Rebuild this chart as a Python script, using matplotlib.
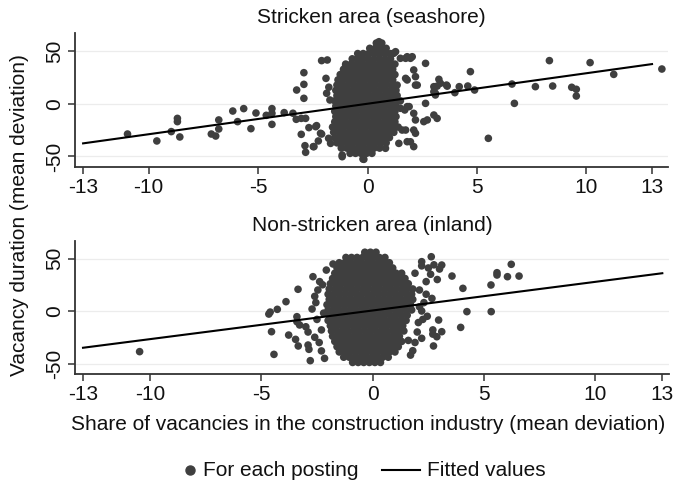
import numpy as np
import matplotlib
matplotlib.use("Agg")
import matplotlib.pyplot as plt
from matplotlib.lines import Line2D

plt.rcParams['font.family'] = ['Liberation Sans', 'DejaVu Sans']

# ---------------- data ----------------
panel_titles = ["Stricken area (seashore)", "Non-stricken area (inland)"]
x_ticks = [-13, -10, -5, 0, 5, 10, 13]
y_ticks = [-50, 0, 50]

# Top panel (seashore): dense core, rows of points (y value, list of x values)
top_core_y = [58, 53, 48, 43, 38, 33, 28, 23, 18, 13, 8, 3, -2, -7, -12, -17,
              -22, -27, -32, -37, -42, -47]
top_core_x = [
    [0.4, 0.65],
    [0.1, 0.35, 0.6, 0.85],
    [-0.45, -0.2, 0.05, 0.3, 0.55, 0.8, 1.05],
    [-0.7, -0.45, -0.2, 0.05, 0.3, 0.55, 0.8, 1.05],
    [-1.0, -0.75, -0.5, -0.25, 0.0, 0.25, 0.5, 0.75, 1.0, 1.25],
    [-1.1, -0.85, -0.6, -0.35, -0.1, 0.15, 0.4, 0.65, 0.9, 1.15],
    [-1.25, -1.0, -0.75, -0.5, -0.25, 0.0, 0.25, 0.5, 0.75, 1.0, 1.25],
    [-1.35, -1.1, -0.85, -0.6, -0.35, -0.1, 0.15, 0.4, 0.65, 0.9, 1.15],
    [-1.4, -1.15, -0.9, -0.65, -0.4, -0.15, 0.1, 0.35, 0.6, 0.85, 1.1, 1.35],
    [-1.45, -1.2, -0.95, -0.7, -0.45, -0.2, 0.05, 0.3, 0.55, 0.8, 1.05, 1.3],
    [-1.4, -1.15, -0.9, -0.65, -0.4, -0.15, 0.1, 0.35, 0.6, 0.85, 1.1, 1.35],
    [-1.5, -1.25, -1.0, -0.75, -0.5, -0.25, 0.0, 0.25, 0.5, 0.75, 1.0, 1.25, 1.5],
    [-1.45, -1.2, -0.95, -0.7, -0.45, -0.2, 0.05, 0.3, 0.55, 0.8, 1.05, 1.3],
    [-1.5, -1.25, -1.0, -0.75, -0.5, -0.25, 0.0, 0.25, 0.5, 0.75, 1.0, 1.25],
    [-1.45, -1.2, -0.95, -0.7, -0.45, -0.2, 0.05, 0.3, 0.55, 0.8, 1.05, 1.3],
    [-1.5, -1.25, -1.0, -0.75, -0.5, -0.25, 0.0, 0.25, 0.5, 0.75, 1.0, 1.25],
    [-1.6, -1.35, -1.1, -0.85, -0.6, -0.35, -0.1, 0.15, 0.4, 0.65, 0.9, 1.15, 1.4],
    [-1.55, -1.3, -1.05, -0.8, -0.55, -0.3, -0.05, 0.2, 0.45, 0.7, 0.95, 1.2],
    [-1.5, -1.25, -1.0, -0.75, -0.5, -0.25, 0.0, 0.25, 0.5, 0.75, 1.0],
    [-1.4, -1.15, -0.9, -0.65, -0.4, -0.15, 0.1, 0.35, 0.6, 0.85],
    [-1.2, -0.95, -0.7, -0.45, -0.2, 0.05, 0.3, 0.55],
    [-0.8, -0.55, -0.3, -0.05, 0.2],
]
# Top panel: scattered postings
top_out_x = [-10.97, -9.63, -8.97, -8.69, -8.69, -8.58, -7.14, -6.94, -6.80, -6.80,
             -6.16, -5.94, -5.66, -5.33, -5.10, -4.63, -4.37, -4.37, -4.37, -3.81,
             -3.41, -3.26, -3.03, -3.24, -2.91, -2.91, -2.91, -3.03, -2.86, -2.83,
             -2.68, -2.48, -2.33, -2.25, -2.10, -1.84, -1.90, -1.87, -1.72, -2.10,
             -1.78, -1.69, -1.38, -1.16, -0.21, -0.41, -1.00, -0.93, -2.83, -2.37,
             -2.15, -2.45, -1.77,
             0.52, 0.67, 1.20, 1.50, 2.04, 1.81, 1.28, 2.65, 2.11, 2.19,
             2.27, 1.81, 3.18, 3.33, 3.64, 3.03, 3.10, 3.26, 3.61, 3.03,
             3.10, 2.65, 1.50, 1.81, 2.11, 2.19, 2.57, 2.73, 3.03, 3.18,
             2.11, 2.19, 1.58, 1.81, 2.11, 1.43, 0.82, -0.17, -1.16, 1.74,
             1.96, 1.74, 2.19, 1.70, 1.90, 1.74, 1.96, 3.99, 4.19, 4.58,
             4.89, 4.70, 5.52, 6.60, 6.71, 7.67, 8.46, 8.31, 9.33, 9.54,
             9.54, 10.17, 11.25, 13.45]
top_out_y = [-28.6, -35.2, -26.3, -13.7, -16.8, -31.4, -28.6, -30.5, -15.2, -23.8,
             -6.7, -16.8, -4.4, -23.5, -8.6, -10.8, -4.4, -8.9, -19.4, -8.2,
             -8.8, -14.6, -13.7, 13.3, 29.8, 18.7, 5.4, -28.9, -39.7, -46.0,
             -22.5, -40.6, -20.6, -35.2, 41.3, 41.9, 24.4, 10.2, 3.8, -28.6,
             -32.7, -37.5, -23.2, -48.6, -52.4, 45.0, 37.0, 36.0, -13.7, -21.6,
             -27.9, -40.6, 16.0,
             59.3, 53.0, 48.3, 43.5, 45.0, 45.0, 49.8, 38.7, 32.4, 26.0,
             18.0, 22.9, 17.0, 19.7, 17.0, 11.7, 10.2, 23.5, 18.0, 16.5,
             8.6, 0.6, -4.1, -2.5, -8.9, -15.2, -16.8, -15.2, -10.5, -13.7,
             -24.8, -27.9, -24.8, -35.9, -40.6, -37.5, -42.2, -52.7, -50.2, 43.5,
             43.5, 24.4, 18.0, -5.7, -2.5, -24.8, -36.0, 10.8, 16.5, 17.1,
             13.3, 30.8, -32.7, 19.0, 0.6, 16.5, 17.1, 41.3, 15.9, 14.0,
             7.6, 39.4, 28.2, 33.3]
# Top panel fitted values at the axis ends
top_fit_x = [-13, 13]
top_fit_y = [-37.5, 38.0]

# Bottom panel (inland): dense core rows
bot_core_y = [56, 51, 46, 41, 36, 31, 26, 21, 16, 11, 6, 1, -4, -9, -14, -19,
              -24, -29, -34, -39, -44, -49]
bot_core_x = [
    [-0.35, -0.1, 0.15],
    [-1.2, -0.95, -0.7, -0.45, -0.2, 0.05, 0.3, 0.55],
    [-1.5, -1.25, -1.0, -0.75, -0.5, -0.25, 0.0, 0.25, 0.5, 0.75],
    [-1.6, -1.35, -1.1, -0.85, -0.6, -0.35, -0.1, 0.15, 0.4, 0.65, 0.9],
    [-1.7, -1.45, -1.2, -0.95, -0.7, -0.45, -0.2, 0.05, 0.3, 0.55, 0.8, 1.05, 1.3],
    [-1.8, -1.55, -1.3, -1.05, -0.8, -0.55, -0.3, -0.05, 0.2, 0.45, 0.7, 0.95, 1.2, 1.45],
    [-1.9, -1.65, -1.4, -1.15, -0.9, -0.65, -0.4, -0.15, 0.1, 0.35, 0.6, 0.85, 1.1, 1.35, 1.6],
    [-1.95, -1.7, -1.45, -1.2, -0.95, -0.7, -0.45, -0.2, 0.05, 0.3, 0.55, 0.8, 1.05, 1.3, 1.55, 1.8],
    [-2.0, -1.75, -1.5, -1.25, -1.0, -0.75, -0.5, -0.25, 0.0, 0.25, 0.5, 0.75, 1.0, 1.25, 1.5, 1.75],
    [-1.95, -1.7, -1.45, -1.2, -0.95, -0.7, -0.45, -0.2, 0.05, 0.3, 0.55, 0.8, 1.05, 1.3, 1.55, 1.8],
    [-2.05, -1.8, -1.55, -1.3, -1.05, -0.8, -0.55, -0.3, -0.05, 0.2, 0.45, 0.7, 0.95, 1.2, 1.45, 1.7],
    [-2.0, -1.75, -1.5, -1.25, -1.0, -0.75, -0.5, -0.25, 0.0, 0.25, 0.5, 0.75, 1.0, 1.25, 1.5, 1.75],
    [-1.95, -1.7, -1.45, -1.2, -0.95, -0.7, -0.45, -0.2, 0.05, 0.3, 0.55, 0.8, 1.05, 1.3, 1.55],
    [-2.0, -1.75, -1.5, -1.25, -1.0, -0.75, -0.5, -0.25, 0.0, 0.25, 0.5, 0.75, 1.0, 1.25, 1.5],
    [-1.9, -1.65, -1.4, -1.15, -0.9, -0.65, -0.4, -0.15, 0.1, 0.35, 0.6, 0.85, 1.1, 1.35],
    [-1.85, -1.6, -1.35, -1.1, -0.85, -0.6, -0.35, -0.1, 0.15, 0.4, 0.65, 0.9, 1.15, 1.4],
    [-1.8, -1.55, -1.3, -1.05, -0.8, -0.55, -0.3, -0.05, 0.2, 0.45, 0.7, 0.95, 1.2],
    [-1.7, -1.45, -1.2, -0.95, -0.7, -0.45, -0.2, 0.05, 0.3, 0.55, 0.8, 1.05, 1.3],
    [-1.6, -1.35, -1.1, -0.85, -0.6, -0.35, -0.1, 0.15, 0.4, 0.65, 0.9, 1.15],
    [-1.5, -1.25, -1.0, -0.75, -0.5, -0.25, 0.0, 0.25, 0.5, 0.75, 1.0],
    [-1.3, -1.05, -0.8, -0.55, -0.3, -0.05, 0.2, 0.45, 0.7],
    [-0.9, -0.65, -0.4, -0.15, 0.1, 0.35],
]
bot_out_x = [-10.46, -4.66, -4.60, -4.28, -3.89, -3.35, -4.54, -4.43, -3.77, -3.46,
             -3.34, -3.40, -3.40, -3.28, -2.90, -2.86, -2.80, -2.72, -2.68, -2.08,
             -1.78, -2.46, -2.38, -2.16, -0.34, -3.00, -2.90, -2.60, -2.50, -2.55,
             -2.40, -2.30, -2.60, -2.30, -2.25, -2.20,
             2.63, 2.20, 3.10, 3.56, 4.05, 5.31, 5.58, 5.58, 6.05, 6.22,
             6.57, 4.23, 5.32, 3.95, 2.96, 3.10, 2.88, 2.73, 2.70, 2.70,
             1.80, 0.34, -0.41, 2.05, 2.25, 2.45, 2.66, 2.40, 2.60, 2.90,
             3.00, 2.75, 2.50, 1.90, 2.20, 2.10, 2.30, 2.20, 2.00, 2.20,
             1.90, 1.70, 2.40, 1.60, 2.10]
bot_out_y = [-38.7, -2.9, -1.0, 1.6, 8.9, 20.7, -19.7, -41.3, -22.9, -27.0,
             -33.3, -5.4, -10.2, -13.3, -32.4, -36.5, -47.3, 1.9, 32.7, 39.0,
             44.8, 20.0, 28.0, -45.1, 55.5, -15.0, -20.0, -25.0, -8.0, 8.0,
             -30.0, -38.0, 14.0, -18.0, 25.0, -2.0,
             51.7, 47.0, 43.8, 33.3, 21.6, 24.8, 36.5, 34.3, 32.7, 44.5,
             33.3, -0.6, -0.6, -15.6, -8.6, -19.7, -24.5, -33.3, -18.0, -22.0,
             -37.8, -46.7, -45.0, -11.0, -8.0, -5.0, 12.0, 28.0, 35.0, 30.0,
             40.0, 44.0, 41.0, 36.0, 43.0, 20.0, 8.0, 0.0, -20.0, -26.0,
             -30.0, -42.0, 16.0, -28.0, 4.0]
bot_fit_x = [-13, 13]
bot_fit_y = [-35.0, 36.0]

legend_labels = ["For each posting", "Fitted values"]
x_label = "Share of vacancies in the construction industry (mean deviation)"
y_label = "Vacancy duration (mean deviation)"

# ---------------- build point arrays ----------------
def assemble(core_y, core_x, out_x, out_y):
    xs, ys = [], []
    for yv, row in zip(core_y, core_x):
        xs.extend(row)
        ys.extend([yv] * len(row))
    xs.extend(out_x)
    ys.extend(out_y)
    return np.array(xs), np.array(ys)

top_x, top_y = assemble(top_core_y, top_core_x, top_out_x, top_out_y)
bot_x, bot_y = assemble(bot_core_y, bot_core_x, bot_out_x, bot_out_y)

# ---------------- figure ----------------
W, H = 678, 490
fig = plt.figure(figsize=(W / 100, H / 100), dpi=100)
fig.patch.set_facecolor("white")

def px_axes(l, t, r, b):
    return fig.add_axes([l / W, 1 - b / H, (r - l) / W, (b - t) / H])

ax_top = px_axes(75, 33, 668, 167)
ax_bot = px_axes(75, 241, 669, 374)

dot_color = "#3f3f3f"
spine_color = "#333333"
text_color = "#111111"
fs = 15

panels = [
    (ax_top, top_x, top_y, top_fit_x, top_fit_y, (-13.37, 13.73), (-60, 67.6)),
    (ax_bot, bot_x, bot_y, bot_fit_x, bot_fit_y, (-13.36, 13.3), (-60, 66.7)),
]
for (ax, xs, ys, fx, fy, xl, yl), title in zip(panels, panel_titles):
    for yt in y_ticks:
        ax.axhline(yt, color="#ececec", lw=0.9, zorder=0)
    ax.scatter(xs, ys, s=30, color=dot_color, edgecolors="none", zorder=2)
    ax.plot(fx, fy, color="black", lw=1.5, zorder=3)
    ax.set_xlim(*xl)
    ax.set_ylim(*yl)
    ax.set_xticks(x_ticks)
    ax.set_xticklabels([str(v) for v in x_ticks])
    ax.set_yticks(y_ticks)
    ax.set_yticklabels([str(v) for v in y_ticks], rotation=90, va="center")
    for s in ["top", "right"]:
        ax.spines[s].set_visible(False)
    for s in ["left", "bottom"]:
        ax.spines[s].set_color(spine_color)
        ax.spines[s].set_linewidth(1.3)
    ax.tick_params(axis="both", direction="out", length=5, width=1.1,
                   color=spine_color, labelsize=fs, labelcolor=text_color, pad=3)
    ax.set_title(title, fontsize=fs, color=text_color, pad=7)

fig.text(20 / W, 1 - 215 / H, y_label, rotation=90, ha="center", va="center",
         fontsize=fs, color=text_color)
fig.text(368 / W, 1 - 424 / H, x_label, ha="center", va="center",
         fontsize=fs, color=text_color)

# legend (placed manually, Stata-style)
leg_y = 1 - 470 / H
fig.add_artist(Line2D([190 / W], [leg_y], marker="o", linestyle="none",
                      color=dot_color, markersize=6.5, transform=fig.transFigure))
fig.text(203 / W, leg_y, legend_labels[0], ha="left", va="center",
         fontsize=fs, color=text_color)
fig.add_artist(Line2D([382 / W, 420 / W], [leg_y, leg_y], color="black", lw=1.5,
                      transform=fig.transFigure))
fig.text(427 / W, leg_y, legend_labels[1], ha="left", va="center",
         fontsize=fs, color=text_color)

fig.savefig("out.png", dpi=100, facecolor="white")
